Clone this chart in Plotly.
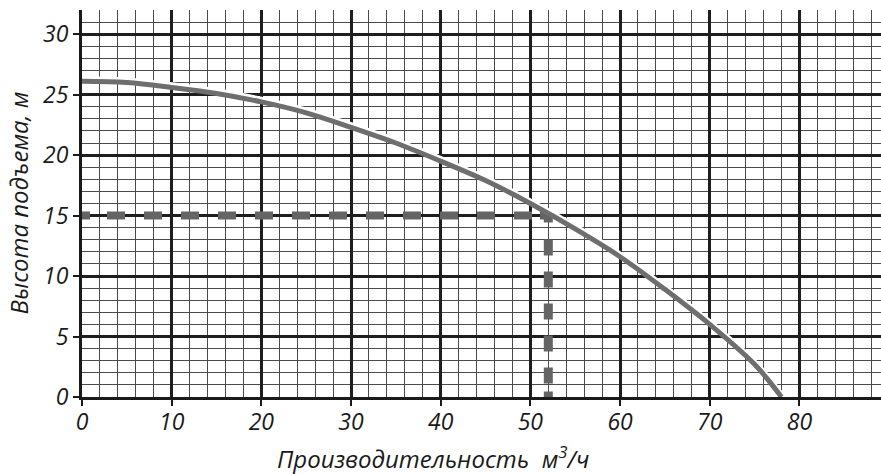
import plotly.graph_objects as go

# Pump curve: flow Q (m3/h) vs head H (m)
flow = [0, 5, 10, 15, 20, 25, 30, 35, 40, 45, 50, 55, 60, 65, 70, 75, 78]
head = [26.1, 26.0, 25.6, 25.1, 24.4, 23.5, 22.3, 21.0, 19.5, 17.9, 16.0, 13.9, 11.6, 8.9, 6.0, 2.7, 0]

# Operating point
op_flow = 52
op_head = 15

x_ticks = [0, 10, 20, 30, 40, 50, 60, 70, 80]
y_ticks = [0, 5, 10, 15, 20, 25, 30]

x_title = "Производительность  м<sup>3</sup>/ч"
y_title = "Высота подъема, м"

font_fam = "Open Sans, Noto Sans, sans-serif"

# dash patterns (style only)
h_dash = ",".join(f"{v}px" for v in [8, 17] + [18, 19] * 11 + [18, 8, 20, 60])
v_dash = ",".join(f"{v}px" for v in [7, 17] + [16, 16] * 4 + [16, 8, 10, 40])

fig = go.Figure()

fig.add_trace(go.Scatter(x=[0, op_flow], y=[op_head, op_head], mode="lines",
                         line=dict(color="#646464", width=8, dash=h_dash),
                         showlegend=False))
fig.add_trace(go.Scatter(x=[op_flow, op_flow], y=[op_head, 0], mode="lines",
                         line=dict(color="#646464", width=9, dash=v_dash),
                         showlegend=False))

# white halo slightly above the curve (overlay axis with shifted range)
fig.add_trace(go.Scatter(x=flow, y=head, mode="lines", yaxis="y2",
                         line=dict(color="white", width=5, shape="spline"),
                         hoverinfo="skip", showlegend=False))

fig.add_trace(go.Scatter(x=flow, y=head, mode="lines", yaxis="y3",
                         line=dict(color="#6e6e6e", width=5, shape="spline"),
                         showlegend=False))

axis_common = dict(zeroline=False, showline=True, linecolor="#1a1a1a", linewidth=3,
                   ticks="outside", ticklen=6, tickwidth=2, tickcolor="#1a1a1a",
                   showgrid=True, gridcolor="#1e1e1e", gridwidth=2.5,
                   tickfont=dict(size=23, style="italic", family=font_fam, color="#1a1a1a"))

fig.update_layout(
    width=881, height=474,
    margin=dict(l=82, r=0, t=10, b=77),
    paper_bgcolor="white", plot_bgcolor="white",
    font=dict(family=font_fam, size=23, color="#1a1a1a", style="italic"),
    xaxis=dict(range=[0, 89.1], tickvals=x_ticks, ticktext=[str(v) for v in x_ticks],
               minor=dict(dtick=2, tick0=0, showgrid=True, gridcolor="#4a4a4a", gridwidth=1.3),
               ticklabelstandoff=-4,
               **axis_common),
    yaxis=dict(range=[0, 32], tickvals=y_ticks, ticktext=[str(v) for v in y_ticks],
               minor=dict(dtick=1, tick0=0, showgrid=True, gridcolor="#4a4a4a", gridwidth=1.3),
               **axis_common),
    yaxis2=dict(range=[-0.22, 31.78], overlaying="y", visible=False),
    yaxis3=dict(range=[0, 32], overlaying="y", visible=False),
    annotations=[
        dict(text=x_title, xref="paper", yref="paper", x=0.439, y=0,
             xanchor="center", yanchor="middle", yshift=-60, showarrow=False,
             font=dict(size=24, style="italic", family=font_fam, color="#1a1a1a")),
        dict(text=y_title, xref="paper", yref="paper", x=0, y=0.5, xshift=-64,
             xanchor="center", yanchor="middle", textangle=-90, showarrow=False,
             font=dict(size=24, style="italic", family=font_fam, color="#1a1a1a")),
    ],
)

fig.write_html("out.html", config={"displayModeBar": False},
               post_script="document.body.style.margin='0';document.body.style.overflow='hidden';")
